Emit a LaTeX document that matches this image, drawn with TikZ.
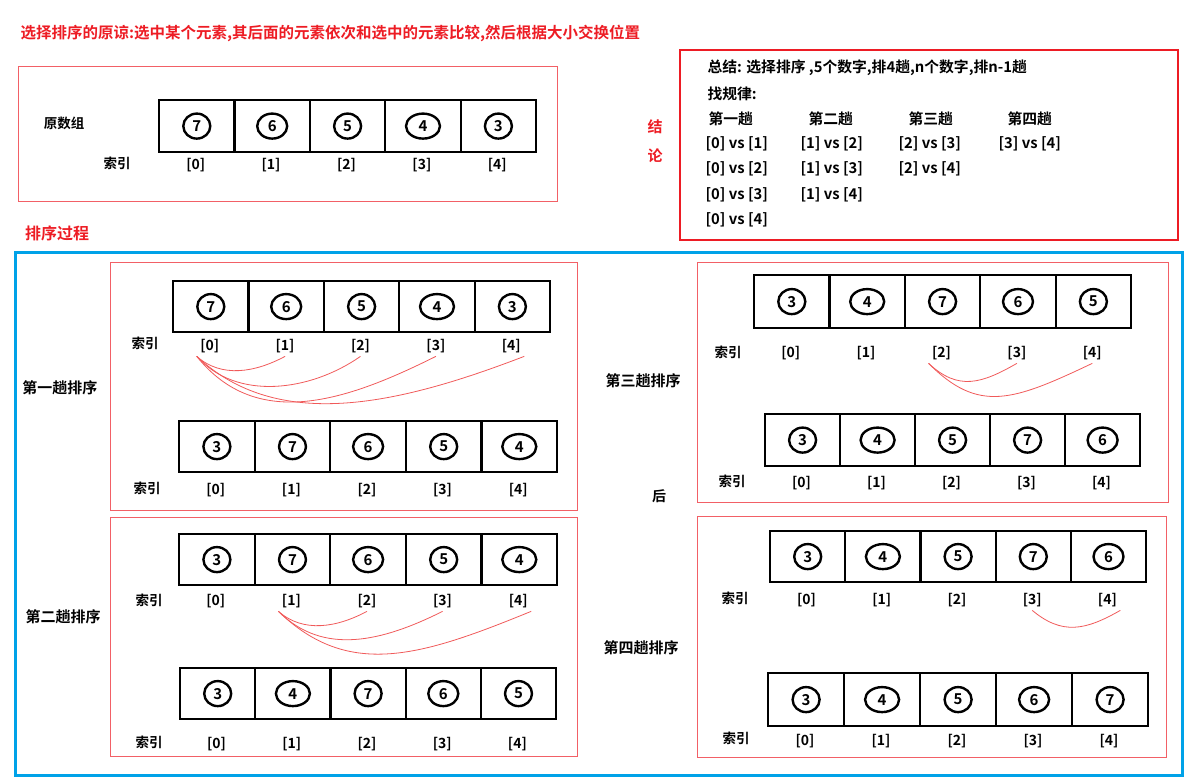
\documentclass[tikz,border=0pt]{standalone}
\usepackage{fontspec}
\setmainfont{Noto Sans CJK SC}[BoldFont={Noto Sans CJK SC Bold}]
\usetikzlibrary{shapes.geometric}
\definecolor{boxred}{RGB}{237,28,36}
\definecolor{linered}{RGB}{240,90,90}
\definecolor{frameblue}{RGB}{0,162,232}
\tikzset{
  cell/.style={draw, line width=2.2pt, inner sep=0},
  num/.style={draw, ellipse, line width=2.4pt, inner sep=0, minimum height=25,
    font=\bfseries\fontsize{15}{15}\selectfont},
  idx/.style={font=\bfseries\fontsize{14}{14}\selectfont},
  lbl/.style={font=\bfseries\fontsize{13.5}{13.5}\selectfont},
  sum/.style={anchor=west, font=\bfseries\fontsize{14.8}{14.8}\selectfont},
  pass/.style={font=\bfseries\fontsize{15}{15}\selectfont},
  redbox/.style={draw=boxred!70, line width=0.9pt},
  cmp/.style={draw=linered, line width=0.8pt}
}
% name, left, top, cell width, cell height, values, y of the indices
\newcommand{\cellrow}[7]{%
  \foreach \v [count=\i from 0] in {#6} {
    \pgfmathsetmacro\cw{\v==4 ? 34 : (\v==6 ? 30 : 27)}
    \node[cell, anchor=north west, minimum width=#4, minimum height=#5] (#1\i) at ({#2+#4*\i},#3) {};
    \node[num, minimum width=\cw] (#1n\i) at (#1\i) {\v};
    \node[idx] (#1i\i) at ({#2+#4*(\i+0.5)},#7) {[\i]};
  }
}
\begin{document}
\begin{tikzpicture}[x=1pt,y=-1pt]
  \useasboundingbox (0,0) rectangle (1187,784);
  \node[anchor=west, text=boxred, font=\bfseries\fontsize{15.5}{15.5}\selectfont] (title) at (17,33)
    {选择排序的原谅:选中某个元素,其后面的元素依次和选中的元素比较,然后根据大小交换位置};
  % original
  \draw[redbox] (18,66) rectangle (557,201);
  \node[lbl] (orig) at (64,123) {原数组};
  \node[lbl] (oidx) at (117,163) {索引};
  \cellrow{o}{158}{99}{75.4}{52}{7,6,5,4,3}{165}
  % summary
  \node[pass, text=boxred] (jie) at (655,127) {结};
  \node[pass, text=boxred] (lun) at (655,156) {论};
  \draw[draw=boxred, line width=2.5pt] (680,50) rectangle (1178,240);
  \node[sum] (s0) at (704,68) {总结: 选择排序 ,5个数字,排4趟,n个数字,排n-1趟};
  \node[sum] (s1) at (704,94) {找规律:};
  \node[sum] (h1) at (705,119) {第一趟};
  \node[sum] (h2) at (805,119) {第二趟};
  \node[sum] (h3) at (905,119) {第三趟};
  \node[sum] (h4) at (1004,119) {第四趟};
  \node[sum] (c01) at (702,144) {[0] vs [1]};
  \node[sum] (c02) at (702,169) {[0] vs [2]};
  \node[sum] (c03) at (702,195) {[0] vs [3]};
  \node[sum] (c04) at (702,220) {[0] vs [4]};
  \node[sum] (c12) at (797,144) {[1] vs [2]};
  \node[sum] (c13) at (797,169) {[1] vs [3]};
  \node[sum] (c14) at (797,195) {[1] vs [4]};
  \node[sum] (c23) at (895,144) {[2] vs [3]};
  \node[sum] (c24) at (895,169) {[2] vs [4]};
  \node[sum] (c34) at (995,144) {[3] vs [4]};
  % process
  \node[pass, text=boxred, font=\bfseries\fontsize{16}{16}\selectfont] (proc) at (57,233) {排序过程};
  \draw[draw=frameblue, line width=3pt] (15,252) rectangle (1182,775);
  % pass 1
  \draw[redbox] (110,262) rectangle (577,510);
  \node[pass] (pass1) at (60,388) {第一趟排序};
  \node[lbl] (p1aidx) at (145,343) {索引};
  \cellrow{p1a}{172}{280}{75.4}{51}{7,6,5,4,3}{346}
  \node[lbl] (p1bidx) at (147,488) {索引};
  \cellrow{p1b}{178}{420}{75.6}{51}{3,7,6,5,4}{490}
  \draw[cmp] (p1ai0.south west) .. controls +(25,22) and +(-30,16) .. (p1ai1.south);
  \draw[cmp] (p1ai0.south west) .. controls +(40,45) and +(-50,35) .. (p1ai2.south);
  \draw[cmp] (p1ai0.south west) .. controls +(60,75) and +(-90,45) .. (p1ai3.south);
  \draw[cmp] (p1ai0.south west) .. controls +(80,75) and +(-130,50) .. (p1ai4.south east);
  % pass 2
  \draw[redbox] (110,517) rectangle (577,756);
  \node[pass] (pass2) at (63,617) {第二趟排序};
  \node[lbl] (p2aidx) at (149,600) {索引};
  \cellrow{p2a}{178}{533}{75.6}{51}{3,7,6,5,4}{601}
  \node[lbl] (p2bidx) at (149,742) {索引};
  \cellrow{p2b}{179}{667}{75.2}{51}{3,4,7,6,5}{744}
  \draw[cmp] (p2ai1.south west) .. controls +(25,22) and +(-30,16) .. (p2ai2.south);
  \draw[cmp] (p2ai1.south west) .. controls +(45,45) and +(-60,30) .. (p2ai3.south);
  \draw[cmp] (p2ai1.south west) .. controls +(70,68) and +(-110,45) .. (p2ai4.south east);
  % pass 3
  \draw[redbox] (697,262) rectangle (1168,502);
  \node[pass] (pass3) at (643,381) {第三趟排序};
  \node[lbl, font=\bfseries\fontsize{14}{14}\selectfont] (after) at (659,496) {后};
  \node[lbl] (p3aidx) at (728,352) {索引};
  \cellrow{p3a}{753}{274}{75.4}{53}{3,4,7,6,5}{353}
  \node[lbl] (p3bidx) at (732,481) {索引};
  \cellrow{p3b}{764}{413}{75}{52}{3,4,5,7,6}{483}
  \draw[cmp] (p3ai2.south west) .. controls +(30,28) and +(-35,20) .. (p3ai3.south);
  \draw[cmp] (p3ai2.south west) .. controls +(50,50) and +(-80,38) .. (p3ai4.south);
  % pass 4
  \draw[redbox] (697,516) rectangle (1166,757);
  \node[pass] (pass4) at (641,648) {第四趟排序};
  \node[lbl] (p4aidx) at (735,598) {索引};
  \cellrow{p4a}{769}{530}{75.2}{51}{3,4,5,7,6}{600}
  \node[lbl] (p4bidx) at (736,738) {索引};
  \cellrow{p4b}{767}{672}{76}{53}{3,4,5,6,7}{741}
  \draw[cmp] (p4ai3.south) .. controls +(30,25) and +(-35,20) .. (p4ai4.south east);
\end{tikzpicture}
\end{document}
